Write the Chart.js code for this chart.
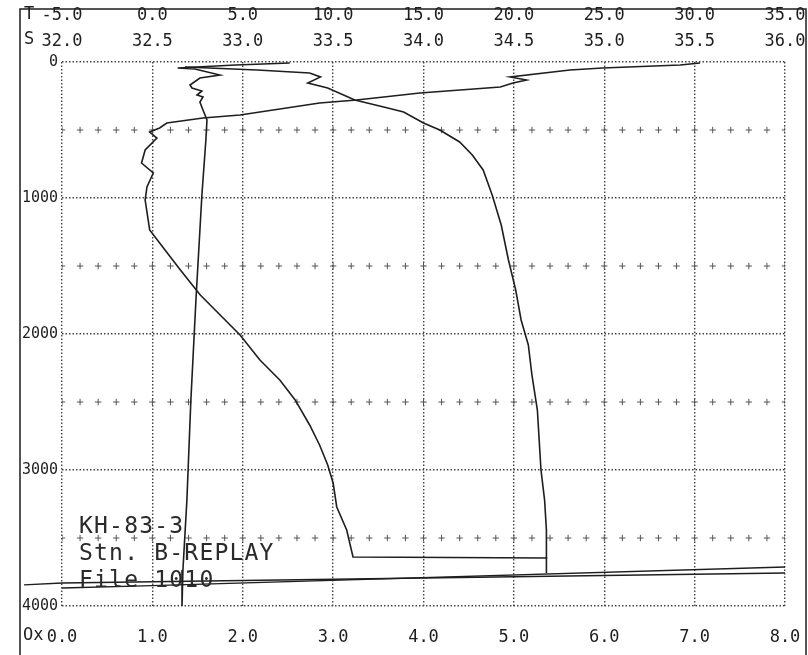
<!DOCTYPE html>
<html>
<head>
<meta charset="utf-8">
<script src="https://cdn.jsdelivr.net/npm/chart.js@4/dist/chart.umd.min.js"></script>
<style>
  html,body{margin:0;padding:0;background:#fff;}
  canvas{display:block;}
</style>
</head>
<body>
<canvas id="ctd" width="808" height="655"></canvas>
<script>
// temperature (deg C) vs depth (m)
const tempDepth = [7, 22, 44, 51, 96, 118, 169, 191, 213, 243, 257, 294, 353, 426, 574, 978, 1750, 2485, 3221, 3735, 4000];
const tempValue = [7.6, 4.6, 1.4, 2.35, 3.74, 2.63, 2.08, 2.19, 2.74, 2.47, 2.8, 2.63, 2.8, 3.02, 2.96, 2.74, 2.41, 2.13, 1.91, 1.69, 1.64];

// salinity vs depth
const salDepth = [37, 59, 81, 110, 154, 191, 279, 331, 368, 449, 500, 588, 684, 794, 978, 1199, 1456, 1676, 1897, 2081, 2302, 2559, 2779, 3000, 3221, 3441, 3640, 3757];
const salValue = [32.68, 33.08, 33.37, 33.43, 33.36, 33.47, 33.62, 33.78, 33.89, 34.0, 34.09, 34.2, 34.27, 34.33, 34.38, 34.43, 34.47, 34.51, 34.54, 34.58, 34.6, 34.63, 34.64, 34.65, 34.67, 34.68, 34.68, 34.68];

// oxygen (ml/l) vs depth
const oxDepth = [7, 22, 44, 59, 110, 132, 154, 184, 228, 279, 301, 390, 412, 449, 485, 515, 559, 647, 743, 816, 919, 1015, 1235, 1382, 1529, 1713, 1860, 2007, 2191, 2338, 2485, 2669, 2816, 2963, 3095, 3272, 3441, 3640, 3647];
const oxValue = [7.06, 6.84, 5.98, 5.62, 4.96, 5.14, 4.99, 4.85, 3.96, 3.26, 2.85, 1.97, 1.56, 1.16, 1.08, 0.97, 1.05, 0.92, 0.88, 1.01, 0.94, 0.92, 0.97, 1.14, 1.31, 1.53, 1.75, 1.97, 2.19, 2.41, 2.58, 2.74, 2.85, 2.94, 3.0, 3.04, 3.15, 3.22, 5.37];

// replay lines near the bottom (Ox units vs depth)
const replayAOx = [-0.42, 0, 8];
const replayADepth = [3845, 3831, 3757];
const replayBOx = [0, 1.0, 8];
const replayBDepth = [3868, 3850, 3713];

// marker rows of "+" between the depth grid lines
const markerDepths = [500, 1500, 2500, 3500];
const markerStep = 0.2;

const noteLines = ['KH-83-3', 'Stn. B-REPLAY', 'File 1010'];
const axisPrefix = ['T', 'S', 'Ox'];

const toPts = (xs, ys) => xs.map((x, i) => ({x: x, y: ys[i]}));

const markers = [];
markerDepths.forEach(d => {
  for (let k = 0; k <= 40; k++) {
    markers.push({x: k * markerStep, y: d});
  }
});

const ink = '#1e1e1e';
const gridInk = '#444';
const mono = 'DejaVu Sans Mono';

const framePlugin = {
  id: 'frame',
  afterDraw(chart) {
    const ctx = chart.ctx;
    ctx.save();
    ctx.strokeStyle = ink;
    ctx.lineWidth = 1.5;
    ctx.strokeRect(20, 9, 786, 660);

    ctx.fillStyle = ink;
    ctx.font = '17px "' + mono + '"';
    ctx.textBaseline = 'middle';
    ctx.textAlign = 'left';
    ctx.fillText(axisPrefix[0], 24, 15);
    ctx.fillText(axisPrefix[1], 24, 40);
    ctx.fillText(axisPrefix[2], 23, 636);

    ctx.font = '23px "' + mono + '"';
    ctx.letterSpacing = '1.2px';
    ctx.textBaseline = 'alphabetic';
    ctx.fillStyle = '#2a2a2a';
    noteLines.forEach((t, i) => {
      ctx.fillText(t, 79, 533 + i * 27);
    });
    ctx.restore();
  }
};

const tickFont = {family: mono, size: 17};

// fixed axis boxes so the plot area sits where the reference has it
const fitX = h => s => { s.height = h; s.paddingLeft = 0; s.paddingRight = 0; };

new Chart(document.getElementById('ctd'), {
  type: 'line',
  data: {
    datasets: [
      {
        label: 'marks',
        type: 'scatter',
        data: markers,
        xAxisID: 'xO',
        yAxisID: 'y',
        pointStyle: 'cross',
        pointRadius: 3.2,
        borderColor: '#555',
        borderWidth: 1,
        order: 5
      },
      {
        label: 'T',
        data: toPts(tempValue, tempDepth),
        xAxisID: 'xT',
        yAxisID: 'y',
        borderColor: ink,
        borderWidth: 1.6,
        pointRadius: 0,
        tension: 0
      },
      {
        label: 'S',
        data: toPts(salValue, salDepth),
        xAxisID: 'xS',
        yAxisID: 'y',
        borderColor: ink,
        borderWidth: 1.6,
        pointRadius: 0,
        tension: 0
      },
      {
        label: 'Ox',
        data: toPts(oxValue, oxDepth),
        xAxisID: 'xO',
        yAxisID: 'y',
        borderColor: ink,
        borderWidth: 1.6,
        pointRadius: 0,
        tension: 0
      },
      {
        label: 'replay A',
        data: toPts(replayAOx, replayADepth),
        xAxisID: 'xO',
        yAxisID: 'y',
        borderColor: ink,
        borderWidth: 1.4,
        pointRadius: 0,
        clip: false
      },
      {
        label: 'replay B',
        data: toPts(replayBOx, replayBDepth),
        xAxisID: 'xO',
        yAxisID: 'y',
        borderColor: ink,
        borderWidth: 1.4,
        pointRadius: 0
      }
    ]
  },
  options: {
    responsive: false,
    animation: false,
    devicePixelRatio: 1,
    layout: {padding: {top: 5, left: 0, right: 23, bottom: 10}},
    plugins: {legend: {display: false}, tooltip: {enabled: false}},
    scales: {
      xT: {
        type: 'linear',
        position: 'top',
        weight: 2,
        min: -5,
        max: 35,
        grid: {display: false, drawTicks: false},
        border: {display: false},
        ticks: {stepSize: 5, autoSkip: false, maxRotation: 0, padding: 5, color: ink, font: tickFont,
          callback: v => v.toFixed(1)},
        afterFit: fitX(26)
      },
      xS: {
        type: 'linear',
        position: 'top',
        weight: 1,
        min: 32,
        max: 36,
        grid: {display: false, drawTicks: false},
        border: {display: false},
        ticks: {stepSize: 0.5, autoSkip: false, maxRotation: 0, padding: 10, color: ink, font: tickFont,
          callback: v => v.toFixed(1)},
        afterFit: fitX(31)
      },
      xO: {
        type: 'linear',
        position: 'bottom',
        min: 0,
        max: 8,
        grid: {color: gridInk, lineWidth: 1.4, drawTicks: false},
        border: {display: false, dash: [1.5, 2]},
        ticks: {stepSize: 1, autoSkip: false, maxRotation: 0, padding: 21, color: ink, font: tickFont,
          callback: v => v.toFixed(1)},
        afterFit: fitX(39)
      },
      y: {
        type: 'linear',
        reverse: true,
        min: 0,
        max: 4000,
        grid: {color: gridInk, lineWidth: 1.4, drawTicks: false},
        border: {display: false, dash: [1.5, 2]},
        ticks: {stepSize: 1000, padding: 4, color: ink, font: {family: mono, size: 15},
          callback: v => String(v)},
        afterFit: s => { s.width = 62; }
      }
    }
  },
  plugins: [framePlugin]
});
</script>
</body>
</html>
